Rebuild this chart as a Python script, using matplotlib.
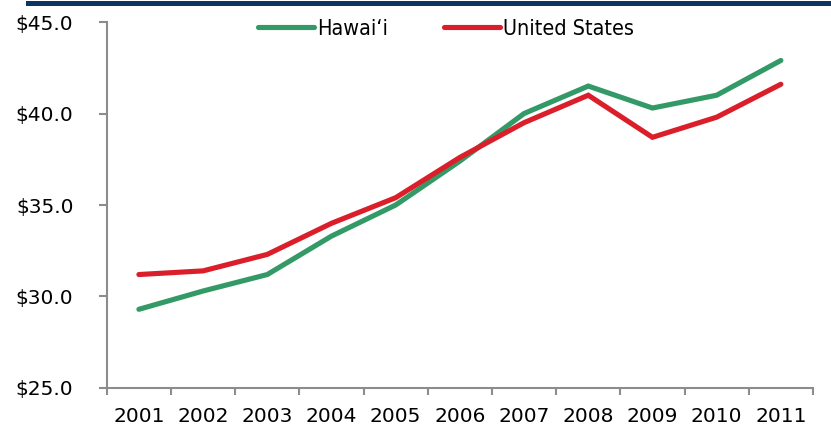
import matplotlib
matplotlib.use('Agg')
import matplotlib.pyplot as plt
from matplotlib.patches import Rectangle
from matplotlib.ticker import FuncFormatter

# Data
years = ['2001', '2002', '2003', '2004', '2005', '2006',
         '2007', '2008', '2009', '2010', '2011']
hawaii = [29.3, 30.3, 31.2, 33.3, 35.0, 37.4, 40.0, 41.5, 40.3, 41.0, 42.9]
united_states = [31.2, 31.4, 32.3, 34.0, 35.4, 37.6, 39.5, 41.0, 38.7, 39.8, 41.6]

GREEN = '#339966'
RED = '#da1f2b'
NAVY = '#0b3663'
AXIS_GREY = '#8c8c8c'

fig = plt.figure(figsize=(8.31, 4.32), dpi=100)
ax = fig.add_axes([0.1285, 0.1019, 0.8498, 0.8471])

# navy rule across the top
fig.add_artist(Rectangle((26 / 831, 1 - 6 / 432), 1 - 26 / 831, 5 / 432,
                         transform=fig.transFigure, color=NAVY, lw=0))

x = range(len(years))
ax.plot(x, hawaii, color=GREEN, lw=3.7, solid_capstyle='round',
        solid_joinstyle='miter', label='Hawai\u2018i')
ax.plot(x, united_states, color=RED, lw=3.7, solid_capstyle='round',
        solid_joinstyle='miter', label='United States')

ax.set_xlim(-0.5, len(years) - 0.5)
ax.set_ylim(25, 45)
ax.set_yticks([25, 30, 35, 40, 45])
ax.yaxis.set_major_formatter(FuncFormatter(lambda v, p: f'${v:.1f}'))

# category boundaries get the tick marks, centres get the labels
ax.set_xticks([i - 0.5 for i in range(len(years) + 1)])
ax.set_xticklabels([])
ax.set_xticks(list(x), minor=True)
ax.set_xticklabels(years, minor=True)

for s in ['top', 'right']:
    ax.spines[s].set_visible(False)
for s in ['left', 'bottom']:
    ax.spines[s].set_color(AXIS_GREY)
    ax.spines[s].set_linewidth(1.5)

ax.tick_params(axis='y', direction='out', length=6, width=1.5,
               color=AXIS_GREY, pad=18, labelsize=14.5)
ax.tick_params(axis='x', which='major', direction='out', length=5,
               width=1.5, color=AXIS_GREY)
ax.tick_params(axis='x', which='minor', length=0, pad=14, labelsize=14.5)

leg = ax.legend(loc='upper center', bbox_to_anchor=(0.48, 1.062), ncol=2,
                frameon=False, handlelength=2.6, handletextpad=0.15,
                columnspacing=2.6,
                prop={'family': 'DejaVu Sans', 'stretch': 'condensed',
                      'size': 15.5})

fig.savefig('out.png', dpi=100)
